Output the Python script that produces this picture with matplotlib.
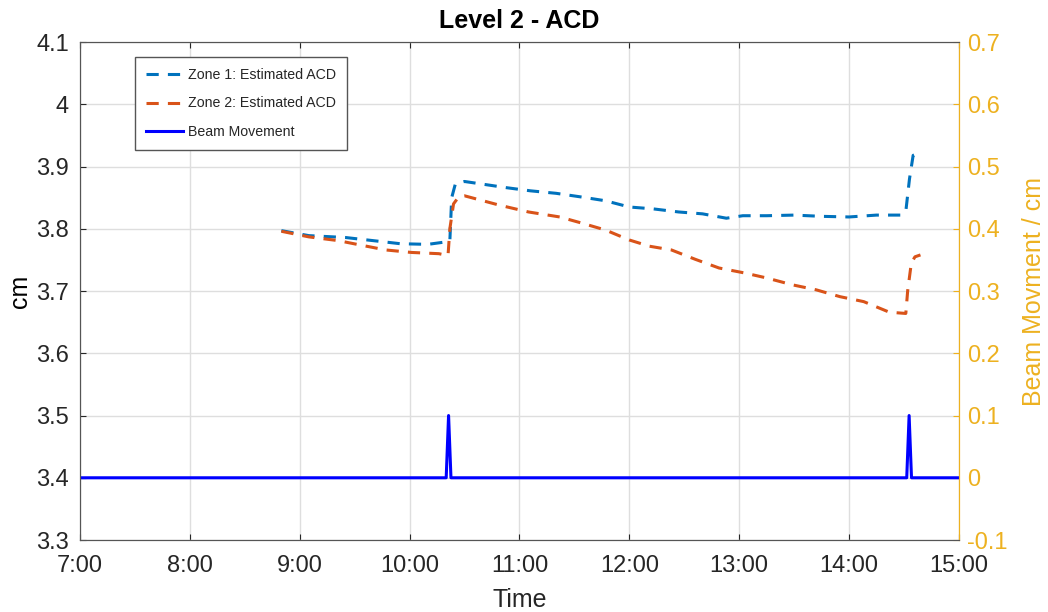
import matplotlib
matplotlib.use('Agg')
import matplotlib.pyplot as plt
from matplotlib.ticker import FuncFormatter

# clock times (HH:MM) and estimated ACD values in cm
zone1_times = ['8:50', '9:05', '9:25', '9:40', '9:55', '10:10', '10:20', '10:22',
               '10:23', '10:25', '10:30', '10:53', '11:06', '11:20', '11:34',
               '11:47', '12:00', '12:13', '12:27', '12:40', '12:53', '13:02',
               '13:15', '13:30', '13:45', '14:00', '14:15', '14:28', '14:31',
               '14:33', '14:35', '14:40']
zone1_acd = [3.797, 3.789, 3.786, 3.781, 3.776, 3.775, 3.779, 3.781,
             3.850, 3.872, 3.876, 3.866, 3.861, 3.857, 3.851,
             3.845, 3.835, 3.832, 3.827, 3.824, 3.817, 3.821,
             3.821, 3.822, 3.820, 3.819, 3.822, 3.822, 3.828,
             3.880, 3.918, 3.923]

zone2_times = ['8:50', '9:05', '9:21', '9:33', '9:47', '10:01', '10:16', '10:21',
               '10:22', '10:24', '10:27', '10:30', '10:49', '11:05', '11:22',
               '11:33', '11:47', '12:00', '12:11', '12:23', '12:36', '12:49',
               '13:03', '13:15', '13:29', '13:42', '13:55', '14:08', '14:22',
               '14:31', '14:32', '14:34', '14:36', '14:39']
zone2_acd = [3.796, 3.787, 3.781, 3.774, 3.766, 3.762, 3.760, 3.757,
             3.800, 3.840, 3.852, 3.853, 3.838, 3.827, 3.819,
             3.810, 3.798, 3.782, 3.772, 3.766, 3.751, 3.737,
             3.729, 3.721, 3.710, 3.702, 3.691, 3.683, 3.666,
             3.664, 3.700, 3.745, 3.755, 3.758]

beam_times = ['7:00', '10:20', '10:21.3', '10:22.6', '14:31.5', '14:32.8', '14:34.1', '15:00']
beam_move = [0, 0, 0.1, 0, 0, 0.1, 0, 0]

x_ticks = ['7:00', '8:00', '9:00', '10:00', '11:00', '12:00', '13:00', '14:00', '15:00']


def hours(t):
    h, m = t.split(':')
    return int(h) + float(m) / 60.0


def clock(v, pos=None):
    h = int(v)
    m = int(round((v - h) * 60))
    return '%d:%02d' % (h, m)


plt.rcParams['font.family'] = ['Liberation Sans', 'DejaVu Sans']

c1 = '#0072BD'
c2 = '#D95319'
c3 = '#EDB120'
dark = '#262626'

fig = plt.figure(figsize=(10.48, 6.12), dpi=100)
ax = fig.add_axes([0.0763, 0.1176, 0.8387, 0.8137])
ax2 = ax.twinx()

l1, = ax.plot([hours(t) for t in zone1_times], zone1_acd, color=c1, lw=2.2,
              dashes=(4, 3), label='Zone 1: Estimated ACD')
l2, = ax.plot([hours(t) for t in zone2_times], zone2_acd, color=c2, lw=2.2,
              dashes=(4, 3), label='Zone 2: Estimated ACD')
l3, = ax2.plot([hours(t) for t in beam_times], beam_move, color='blue', lw=2.2,
               label='Beam Movement')

ax.set_xlim(7, 15)
ax.set_ylim(3.3, 4.1)
ax2.set_ylim(-0.1, 0.7)
ax.set_xticks([hours(t) for t in x_ticks])
ax.xaxis.set_major_formatter(FuncFormatter(clock))
ax.set_yticks([3.3 + 0.1 * i for i in range(9)])
ax.set_yticklabels(['3.3', '3.4', '3.5', '3.6', '3.7', '3.8', '3.9', '4', '4.1'])
ax2.set_yticks([-0.1 + 0.1 * i for i in range(9)])
ax2.set_yticklabels(['-0.1', '0', '0.1', '0.2', '0.3', '0.4', '0.5', '0.6', '0.7'])

ax.grid(True, color='#dedede', lw=1.0)
ax.set_axisbelow(True)

ax.tick_params(axis='both', direction='in', labelsize=17, colors=dark,
               length=4, top=True, right=False)
ax.tick_params(axis='x', pad=11)
ax.tick_params(axis='y', pad=8)
ax2.tick_params(axis='y', direction='in', labelsize=17, colors=c3, length=4, pad=6)
for s in ['left', 'top', 'bottom']:
    ax.spines[s].set_color('#555555')
    ax2.spines[s].set_color('#555555')
ax2.spines['right'].set_color(c3)
ax.spines['right'].set_color(c3)

ax.set_title('Level 2 - ACD', fontsize=18, fontweight='bold', pad=10)
ax.set_xlabel('Time', fontsize=18, color=dark, labelpad=8)
ax.set_ylabel('cm', fontsize=18, color='black', labelpad=3)
ax2.set_ylabel('Beam Movment / cm', fontsize=18, color=c3, labelpad=10)

leg = ax2.legend(handles=[l1, l2, l3], loc='upper left', bbox_to_anchor=(0.0626, 0.97),
                 borderaxespad=0, fontsize=10.2, fancybox=False, framealpha=1,
                 edgecolor='#555555', handlelength=2.6, handletextpad=0.35,
                 labelspacing=1.0, borderpad=0.8)
for t in leg.get_texts():
    t.set_color(dark)

fig.savefig('out.png', dpi=100)
